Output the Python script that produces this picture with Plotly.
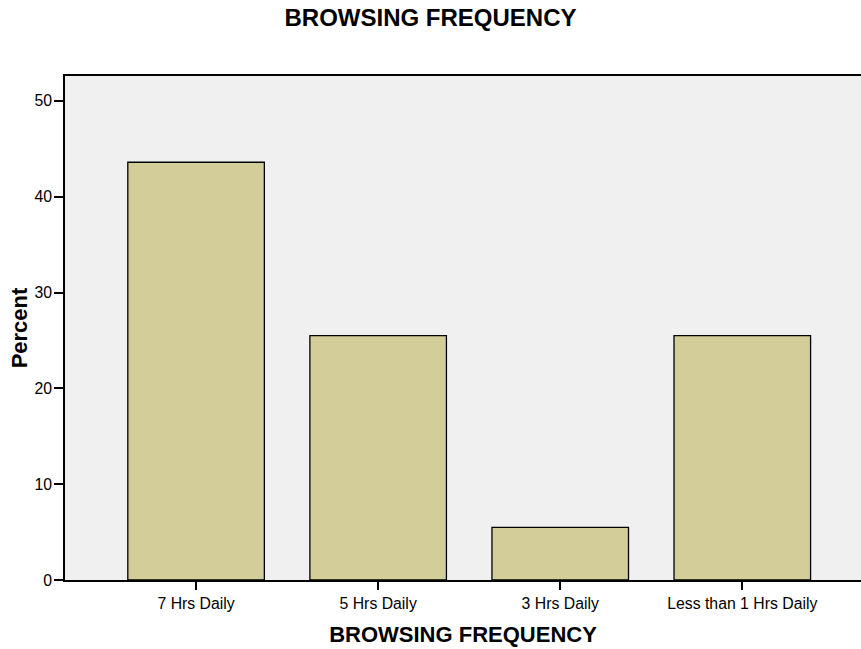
import plotly.graph_objects as go

categories = ["7 Hrs Daily", "5 Hrs Daily", "3 Hrs Daily", "Less than 1 Hrs Daily"]
percent = [43.6, 25.5, 5.5, 25.5]
y_ticks = [0, 10, 20, 30, 40, 50]

fig = go.Figure(go.Bar(
    x=categories, y=percent, width=0.75,
    marker=dict(color="#D3CE99", line=dict(color="black", width=1.3)),
))

font = "Liberation Sans, Arial, sans-serif"
fig.update_layout(
    width=861, height=649,
    margin=dict(l=65, r=0, t=76, b=69),
    paper_bgcolor="white", plot_bgcolor="#F0F0F0",
    showlegend=False,
    font=dict(family=font, color="black", size=15.8),
    title=dict(text="<b>BROWSING FREQUENCY</b>", x=0.5, xanchor="center",
               y=0.973, yanchor="middle", font=dict(size=24, family=font)),
    xaxis=dict(range=[-0.72, 3.652], showline=True, linecolor="black", linewidth=1.5,
               mirror=True, ticks="outside", ticklen=8, tickwidth=2, tickcolor="black",
               showgrid=False, zeroline=False,
               title=dict(text="<b>BROWSING FREQUENCY</b>", font=dict(size=22), standoff=16)),
    yaxis=dict(range=[0, 52.6], tickvals=y_ticks, showline=True, linecolor="black",
               linewidth=1.5, ticks="outside", ticklen=9, tickwidth=2, tickcolor="black",
               ticklabelstandoff=-1,
               showgrid=False, zeroline=False,
               title=dict(text="<b>Percent</b>", font=dict(size=22), standoff=1)),
)

fig.write_html("out.html", config={"displayModeBar": False},
               post_script="document.body.style.margin='0';document.body.style.overflow='hidden';")
